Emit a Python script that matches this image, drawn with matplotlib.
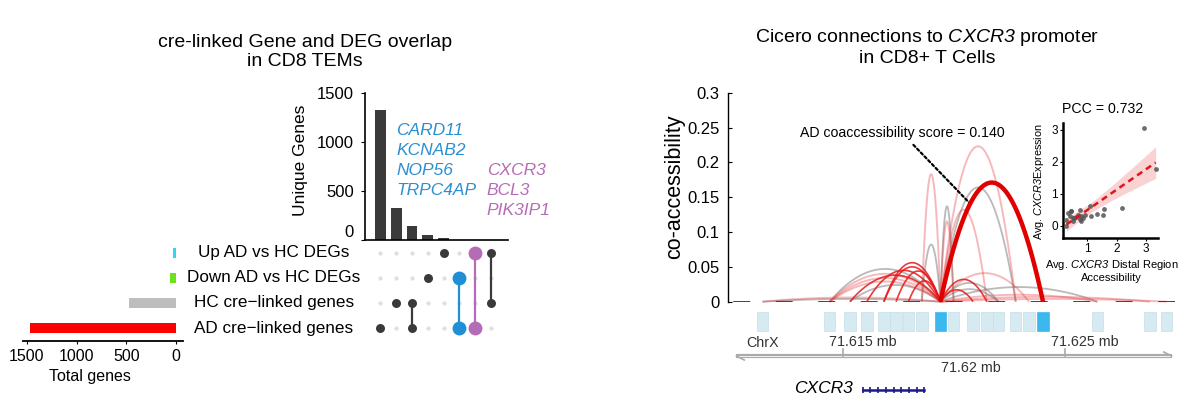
import numpy as np
import matplotlib
matplotlib.use("Agg")
import matplotlib.pyplot as plt
from matplotlib.patches import Rectangle
from matplotlib import transforms

plt.rcParams['font.family'] = ['Liberation Sans', 'DejaVu Sans']
plt.rcParams['mathtext.fontset'] = 'custom'
plt.rcParams['mathtext.rm'] = 'Liberation Sans:italic'
plt.rcParams['mathtext.it'] = 'Liberation Sans:italic'

W, H = 1200, 405

# ---------------- upset data ----------------
set_names = ['Up AD vs HC DEGs', 'Down AD vs HC DEGs', 'HC cre\u2212linked genes', 'AD cre\u2212linked genes']
set_sizes = [30, 62, 471, 1473]
set_colors = ['#2ED8EE', '#6FE01C', '#BDBDBD', '#FF0000']
inter_members = [[3], [2], [2, 3], [1], [0], [1, 3], [0, 3], [0, 2]]
inter_counts = [1320, 323, 146, 55, 24, 4, 3, 2]
inter_colors = ['#3a3a3a'] * 5 + ['#1F8FD6', '#B56CB6', '#3a3a3a']
blue_genes = ['CARD11', 'KCNAB2', 'NOP56', 'TRPC4AP']
pink_genes = ['CXCR3', 'BCL3', 'PIK3IP1']

# ---------------- cicero data (kb) ----------------
peak_starts = [71611.11, 71614.14, 71615.05, 71615.81, 71616.58, 71617.13, 71617.69,
               71618.29, 71619.13, 71619.72, 71620.60, 71621.22, 71621.74, 71622.52,
               71623.12, 71623.75, 71626.20, 71628.57, 71629.32]
peak_width = 0.52
promoter_idx = 8
distal_idx = 15
arc_targets = [0, 0, 1, 1, 1, 1, 2, 2, 3, 4, 4, 5, 6,
               7, 7, 9, 9, 11, 11, 12, 12, 10, 13, 13, 14, 16, 16, 17, 18, 15]
arc_heights = [0.006, 0.004, 0.047, 0.040, 0.034, 0.029, 0.038, 0.024, 0.045, 0.056, 0.050, 0.044, 0.030,
               0.183, 0.082, 0.137, 0.115, 0.132, 0.032, 0.027, 0.018, 0.017, 0.223, 0.164, 0.041,
               0.021, 0.010, 0.007, 0.004, 0.171]
arc_kinds = ['light', 'grey', 'grey', 'light', 'light', 'light', 'red', 'grey', 'red', 'red', 'red', 'red', 'red',
             'light', 'grey', 'grey', 'light', 'light', 'red', 'grey', 'grey', 'red', 'light', 'grey', 'light',
             'grey', 'light', 'light', 'light', 'main']
gene_start, gene_end = 71615.89, 71618.66
axis_ticks = [71615, 71625]

# inset scatter
acc_x = [2.94, 3.34, 2.17, 1.57, 1.54, 1.34, 1.11, 1.09, 0.74, 0.79, 0.74, 0.79, 0.51, 0.45,
         0.34, 0.39, 0.28, 0.28, 0.60, 0.91, 0.51, 0.68, 0.42, 0.55, 0.85]
expr_y = [3.05, 1.77, 0.56, 0.52, 0.33, 0.37, 0.30, 0.62, 0.49, 0.30, 0.20, 0.15, 0.23, 0.44,
          0.39, 0.30, 0.16, 0.00, 0.28, 0.33, 0.13, 0.33, 0.45, 0.25, 0.22]

fig = plt.figure(figsize=(W / 100, H / 100), dpi=100)


def px_axes(l, t, r, b):
    return fig.add_axes([l / W, 1 - b / H, (r - l) / W, (b - t) / H])


# ================= left: upset =================
fig.text(305 / W, 1 - 52 / H, 'cre-linked Gene and DEG overlap\nin CD8 TEMs',
         ha='center', va='center', fontsize=14, linespacing=1.1)

ncol = len(inter_counts)
xl = (-0.98, 8.2)

ax_bar = px_axes(365, 92.7, 508, 240)
ax_bar.bar(range(ncol), inter_counts, width=0.68, color='#3a3a3a')
ax_bar.set_xlim(xl[0], xl[0] + (xl[1] - xl[0]) * 143 / 145)
ax_bar.set_ylim(0, 1500)
ax_bar.set_yticks([0, 500, 1000, 1500])
ax_bar.set_xticks([])
for s in ['top', 'right']:
    ax_bar.spines[s].set_visible(False)
ax_bar.spines['left'].set_linewidth(1.2)
ax_bar.spines['bottom'].set_linewidth(1.2)
ax_bar.tick_params(axis='y', labelsize=12, length=3, pad=5)
ax_bar.get_yticklabels()[0].set_verticalalignment('bottom')
ax_bar.set_ylabel('Unique Genes', fontsize=12.5)
ax_bar.yaxis.set_label_coords(-0.40, 0.54)
ax_bar.text(1.0, 806, '\n'.join(blue_genes), color='#2B8FD0', style='italic',
            fontsize=12.5, ha='left', va='center', linespacing=1.42)
ax_bar.text(6.74, 500, '\n'.join(pink_genes), color='#B86BB5', style='italic',
            fontsize=12.5, ha='left', va='center', linespacing=1.42)

ax_mat = px_axes(365, 240.5, 510, 340.5)
ax_mat.set_xlim(*xl)
ax_mat.set_ylim(3.5, -0.5)
ax_mat.axis('off')
for r in range(len(set_names)):
    ax_mat.scatter(range(ncol), [r] * ncol, s=9, color='#DEDEDE', zorder=1, linewidths=0)
for c, (mem, col) in enumerate(zip(inter_members, inter_colors)):
    big = col != '#3a3a3a'
    if len(mem) > 1:
        ax_mat.plot([c, c], [min(mem), max(mem)], color=col, lw=1.6, zorder=2)
    ax_mat.scatter([c] * len(mem), mem, s=100 if big else 42, color=col, zorder=3, linewidths=0)

trans = transforms.blended_transform_factory(fig.transFigure, ax_mat.transData)
for r, name in enumerate(set_names):
    ax_mat.text(274 / W, r, name, transform=trans, ha='center', va='center', fontsize=12.3)

ax_set = px_axes(23, 240.5, 183, 340.5)
ax_set.barh(range(len(set_sizes)), set_sizes, height=0.42, color=set_colors)
ax_set.set_xlim(1540, -70)
ax_set.set_ylim(3.5, -0.5)
ax_set.set_yticks([])
ax_set.set_xticks([1500, 1000, 500, 0])
for s in ['top', 'right', 'left']:
    ax_set.spines[s].set_visible(False)
ax_set.spines['bottom'].set_linewidth(1.3)
ax_set.tick_params(axis='x', labelsize=11.5, length=2, pad=4)
ax_set.set_xlabel('Total genes', fontsize=11.5)
ax_set.xaxis.set_label_coords(0.42, -0.29)

# ================= right: cicero =================
fig.text(927 / W, 1 - 47 / H, 'Cicero connections to $\\mathrm{CXCR3}$ promoter\nin CD8+ T Cells',
         ha='center', va='center', fontsize=14, linespacing=1.15)

X0 = 71620 + (728 - 954) / 22.2
X1 = 71620 + (1175 - 954) / 22.2
centers = [s + peak_width / 2 for s in peak_starts]

ax_arc = px_axes(728, 92.7, 1175, 301.7)
ax_arc.set_xlim(X0, X1)
ax_arc.set_ylim(0, 0.3)
for s in ['top', 'right', 'bottom']:
    ax_arc.spines[s].set_visible(False)
ax_arc.spines['left'].set_linewidth(1.0)
ax_arc.set_xticks([])
ax_arc.set_yticks([0, 0.05, 0.1, 0.15, 0.2, 0.25, 0.3])
ax_arc.set_yticklabels(['0', '0.05', '0.1', '0.15', '0.2', '0.25', '0.3'])
ax_arc.tick_params(axis='y', direction='in', length=3, labelsize=12, pad=6)
ax_arc.set_ylabel('co-accessibility', fontsize=15.5)
ax_arc.yaxis.set_label_coords(-0.096, 0.55)

ax_arc.axhline(0, color='#333333', lw=2.0, linestyle=(13.6, (6.1, 9.2)), zorder=3.5)

styles = {
    'grey': dict(color='#8c8c8c', alpha=0.6, lw=1.3, zorder=2),
    'light': dict(color='#E8393C', alpha=0.35, lw=1.4, zorder=3),
    'red': dict(color='#E31A1C', alpha=0.85, lw=1.2, zorder=4),
    'main': dict(color='#E00000', alpha=1.0, lw=3.2, zorder=6),
}
t = np.linspace(0, 1, 120)
xp = centers[promoter_idx]
for tgt, h, kind in zip(arc_targets, arc_heights, arc_kinds):
    xs = xp + (centers[tgt] - xp) * t
    ys = 4 * h * t * (1 - t)
    ax_arc.plot(xs, ys, solid_capstyle='butt', clip_on=False, **styles[kind])

ax_arc.annotate('AD coaccessibility score = 0.140', xy=(71620.72, 0.141), xytext=(71617.66, 0.242),
                ha='center', va='center', fontsize=10.2,
                arrowprops=dict(arrowstyle='-', linestyle=(0, (1.2, 1.2)), color='black', lw=1.6,
                                shrinkA=2, shrinkB=0))

# track below
ax_trk = px_axes(728, 303, 1175, 402)
ax_trk.set_xlim(X0, X1)
ax_trk.set_ylim(402, 303)
ax_trk.axis('off')
for i, s in enumerate(peak_starts):
    hi = i in (promoter_idx, distal_idx)
    ax_trk.add_patch(Rectangle((s, 312), peak_width, 19,
                               facecolor='#3BB8EE' if hi else '#D6EBF1',
                               edgecolor='#3BB8EE' if hi else '#C5DFE7', lw=0.5))

ax_lo, ax_hi = 71610.2, 71629.8
ax_trk.plot([ax_lo, ax_hi], [356, 356], color='#A9A9A9', lw=3, solid_capstyle='butt')
ax_trk.plot([ax_lo, ax_hi], [356, 356], color='#EEEEEE', lw=0.8, solid_capstyle='butt')
ax_trk.plot([ax_lo, ax_lo + 0.35], [356, 360], color='#A9A9A9', lw=1.2)
ax_trk.plot([ax_hi, ax_hi - 0.35], [356, 352], color='#A9A9A9', lw=1.2)
for tk in axis_ticks:
    ax_trk.plot([tk, tk], [349, 356], color='#A9A9A9', lw=1.2)
    ax_trk.text(tk + 0.87, 342, f'{tk / 1000:.3f} mb', ha='center', va='center',
                fontsize=10.3, color='#333333')
ax_trk.text(71620.77, 368, '71.62 mb', ha='center', va='center', fontsize=10.3, color='#333333')
ax_trk.text(71611.38, 343, 'ChrX', ha='center', va='center', fontsize=10.3, color='#333333')

ax_trk.text(71614.1, 388, 'CXCR3', style='italic', ha='center', va='center', fontsize=12.5)
ax_trk.plot([gene_start, gene_end], [390, 390], color='#1a1a8c', lw=1.8)
ax_trk.plot(np.linspace(gene_start, gene_end, 9), [390] * 9, ls='none', marker='|',
            ms=5, mew=1.2, color='#1a1a8c')

# inset scatter
ax_in = px_axes(1062.7, 123.3, 1158.3, 238.3)
ax_in.set_facecolor('none')
ax_in.set_xlim(0.15, 3.43)
ax_in.set_ylim(-0.4, 3.2)
for s in ['top', 'right']:
    ax_in.spines[s].set_visible(False)
ax_in.spines['left'].set_linewidth(1.8)
ax_in.spines['bottom'].set_linewidth(1.8)
ax_in.set_xticks([1, 2, 3])
ax_in.set_yticks([0, 1, 2, 3])
ax_in.tick_params(labelsize=8.5, length=2, pad=1.5)

xa = np.array(acc_x)
ya = np.array(expr_y)
slope, icpt = np.polyfit(xa, ya, 1)
xf = np.linspace(xa.min(), xa.max(), 100)
yf = slope * xf + icpt
resid = ya - (slope * xa + icpt)
n = len(xa)
sres = np.sqrt(np.sum(resid ** 2) / (n - 2))
se = sres * np.sqrt(1 / n + (xf - xa.mean()) ** 2 / np.sum((xa - xa.mean()) ** 2))
ax_in.fill_between(xf, yf - 2.06 * se, yf + 2.06 * se, color='#F08080', alpha=0.35, lw=0)
ax_in.scatter(xa, ya, s=12, color='#555555', alpha=0.85, linewidths=0, zorder=3)
ax_in.plot(xf, yf, color='#E0141E', lw=1.8, ls=(0, (2.5, 1.8)), zorder=4)
ax_in.set_xlabel('Avg. $\\mathrm{CXCR3}$ Distal Region\nAccessibility', fontsize=8, linespacing=1.15)
ax_in.xaxis.set_label_coords(0.51, -0.17)
ax_in.set_ylabel('Avg. $\\mathrm{CXCR3}$Expression', fontsize=7.8)
ax_in.yaxis.set_label_coords(-0.17, 0.49)
fig.text(1103 / W, 1 - 109 / H, 'PCC = 0.732', ha='center', va='center', fontsize=10.2)

fig.savefig('out.png', dpi=100)
